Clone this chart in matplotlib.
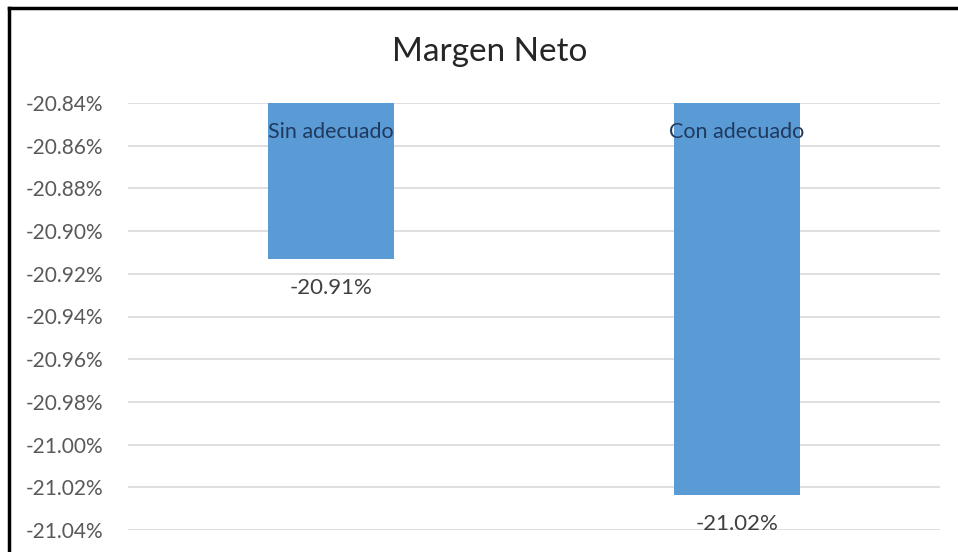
import numpy as np
import matplotlib
matplotlib.use("Agg")
import matplotlib.pyplot as plt
from matplotlib.lines import Line2D
from matplotlib.ticker import FuncFormatter

# data (percent)
categories = ["Sin adecuado", "Con adecuado"]
values = [-20.913, -21.0235]
value_labels = ["-20.91%", "-21.02%"]
y_ticks = [-20.84, -20.86, -20.88, -20.90, -20.92, -20.94,
           -20.96, -20.98, -21.00, -21.02, -21.04]

AXIS_TOP = -20.84
AXIS_BOTTOM = -21.04
BAR_COL = "#5B9BD5"

plt.rcParams["font.family"] = ["Lato", "DejaVu Sans"]

fig = plt.figure(figsize=(9.58, 5.52), dpi=100)
ax = fig.add_axes([128 / 958, 1 - 530 / 552, 812 / 958, 427 / 552])

x = np.arange(len(categories))
heights = [v - AXIS_TOP for v in values]
ax.bar(x, heights, bottom=AXIS_TOP, width=0.31, color=BAR_COL, zorder=3)

ax.set_xlim(-0.5, 1.5)
ax.set_ylim(AXIS_BOTTOM, AXIS_TOP)
ax.set_yticks(y_ticks)
ax.yaxis.set_major_formatter(FuncFormatter(lambda v, p: f"{v:.2f}%"))
ax.set_xticks([])
ax.tick_params(axis="y", length=0, labelsize=15, labelcolor="#595959", pad=18)
ax.grid(axis="y", color="#d9d9d9", linewidth=1.2, zorder=0)
for s in ax.spines.values():
    s.set_visible(False)

for xi, cat, v, lab in zip(x, categories, values, value_labels):
    ax.text(xi, AXIS_TOP - 0.0135, cat, ha="center", va="center",
            fontsize=15.5, color="#1f3a5f", zorder=4)
    ax.text(xi, v - 0.0135, lab, ha="center", va="center",
            fontsize=16, color="#404040", zorder=4)

fig.text(490 / 958, 1 - 52 / 552, "Margen Neto", ha="center", va="center",
         fontsize=24, color="#262626")

# chart frame (left and top edges)
fig.add_artist(Line2D([9 / 958, 9 / 958], [0, 1 - 8 / 552],
                      color="black", linewidth=2.5, transform=fig.transFigure))
fig.add_artist(Line2D([9 / 958, 1], [1 - 8 / 552, 1 - 8 / 552],
                      color="black", linewidth=2.5, transform=fig.transFigure))

fig.savefig("out.png", dpi=100)
